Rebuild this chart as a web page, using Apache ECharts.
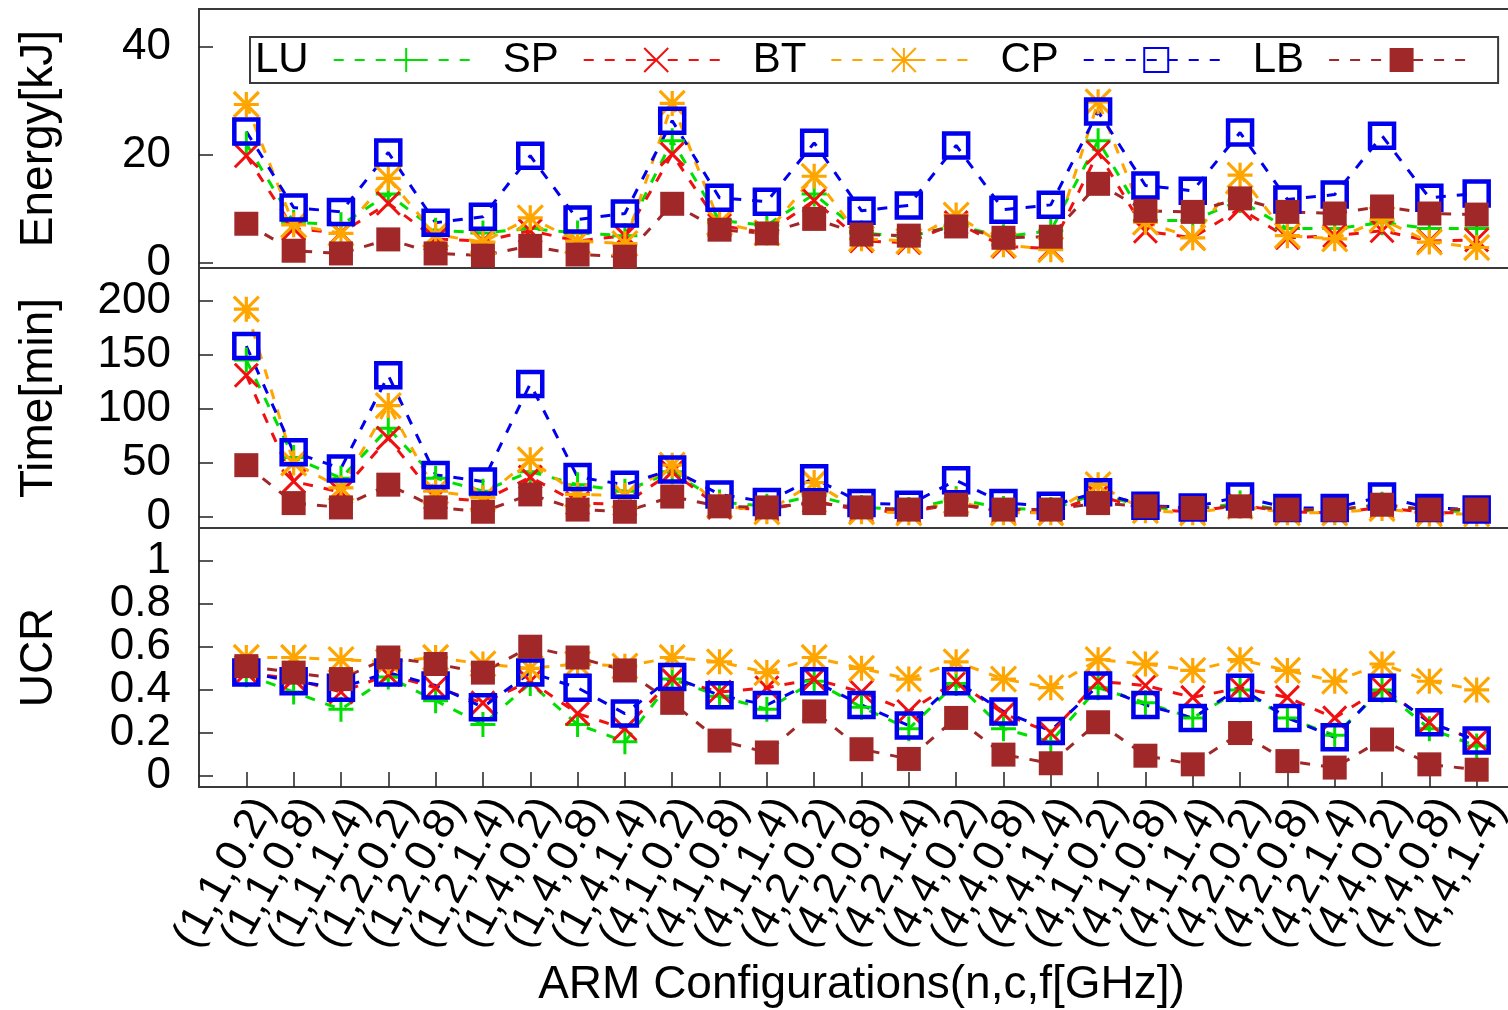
<!DOCTYPE html>
<html>
<head>
<meta charset="utf-8">
<script src="https://cdn.jsdelivr.net/npm/echarts@6/dist/echarts.min.js"></script>
<style>
  html, body { margin: 0; padding: 0; background: #fff; }
  #chart { width: 1508px; height: 1010px; }
</style>
</head>
<body>
<div id="chart"></div>
<script>
// ARM configurations (n, c, f[GHz])
const categories = [
  '(1,1,0.2)', '(1,1,0.8)', '(1,1,1.4)', '(1,2,0.2)', '(1,2,0.8)', '(1,2,1.4)', '(1,4,0.2)', '(1,4,0.8)', '(1,4,1.4)',
  '(4,1,0.2)', '(4,1,0.8)', '(4,1,1.4)', '(4,2,0.2)', '(4,2,0.8)', '(4,2,1.4)', '(4,4,0.2)', '(4,4,0.8)', '(4,4,1.4)',
  '(4,1,0.2)', '(4,1,0.8)', '(4,1,1.4)', '(4,2,0.2)', '(4,2,0.8)', '(4,2,1.4)', '(4,4,0.2)', '(4,4,0.8)', '(4,4,1.4)'
];

const benchmarks = ['LU', 'SP', 'BT', 'CP', 'LB'];

// Energy [kJ]
const energyLU = [22, 7.5, 7, 12.7, 6, 5.5, 6.3, 5.5, 5, 22.6, 7.8, 6.9, 12.7, 5.5, 4.8, 6.9, 4.8, 5.9, 22.6, 7.8, 7.8, 11.5, 6.3, 6.3, 7.4, 6.3, 6.3];
const energySP = [19.8, 6.3, 5.5, 11, 4.4, 4, 5.9, 4, 5, 20.1, 6.9, 5.5, 11.5, 4, 3.7, 7.4, 3, 2.6, 20.4, 5.8, 4.6, 10, 4.6, 5, 5.9, 4, 4.2];
const energyBT = [29.3, 7, 5.4, 15.6, 5.2, 3.8, 8.3, 4, 3.5, 29.5, 7.4, 5.5, 16, 4.4, 4, 8.8, 3.3, 2.4, 29.8, 7.5, 4.6, 16.2, 5, 4.4, 8, 3.8, 2.8];
const energyCP = [24.3, 10.2, 9.4, 20.4, 7.4, 8.5, 19.8, 8.0, 9.1, 26.3, 12.0, 11.3, 22.2, 9.6, 10.6, 21.7, 9.8, 10.7, 28, 14.3, 13.3, 24.1, 11.7, 12.6, 23.5, 12.0, 12.8];
const energyLB = [7.2, 2.2, 1.7, 4.3, 1.7, 1.3, 3.1, 1.5, 1.1, 10.9, 6.1, 5.4, 8.1, 5.2, 5.0, 6.7, 4.6, 4.8, 14.6, 9.6, 9.4, 11.9, 9.4, 9.1, 10.4, 9.1, 8.9];

// Time [min]
const timeLU = [145, 55, 36, 82, 36, 24, 42, 30, 24, 42, 14, 10, 20, 9, 7, 17, 8, 7, 22, 9, 7, 13, 6, 6, 12, 6, 5];
const timeSP = [131, 33, 23, 73, 18, 15, 37, 13, 12, 42, 9, 7, 15, 6, 5, 12, 5, 4, 20, 7, 5, 11, 5, 4, 9, 4, 4];
const timeBT = [192, 50, 27, 103, 24, 18, 53, 21, 20, 48, 11, 5, 32, 5, 4, 15, 4, 4, 30, 6, 4, 10, 4, 4, 8, 3, 3];
const timeCP = [158, 60, 45, 131, 39, 33, 123, 37, 30, 44, 21, 14, 36, 13, 11.5, 34, 13, 10.5, 23, 10.5, 9, 19, 8.5, 8.5, 19, 8.5, 7];
const timeLB = [48, 13, 9, 30, 9, 5, 21, 7, 5, 19, 10, 9, 13, 9, 7, 11.5, 7, 7, 13, 10, 8.5, 10, 7, 7, 11.5, 7, 7];

// UCR
const ucrLU = [0.47, 0.39, 0.31, 0.46, 0.35, 0.24, 0.43, 0.24, 0.16, 0.45, 0.37, 0.31, 0.44, 0.32, 0.22, 0.43, 0.22, 0.16, 0.41, 0.34, 0.27, 0.40, 0.27, 0.19, 0.40, 0.22, 0.14];
const ucrSP = [0.48, 0.45, 0.39, 0.47, 0.41, 0.34, 0.44, 0.29, 0.22, 0.45, 0.39, 0.41, 0.45, 0.39, 0.30, 0.44, 0.29, 0.20, 0.44, 0.42, 0.365, 0.41, 0.365, 0.27, 0.41, 0.25, 0.165];
const ucrBT = [0.55, 0.55, 0.54, 0.53, 0.55, 0.52, 0.50, 0.52, 0.51, 0.55, 0.53, 0.48, 0.55, 0.50, 0.45, 0.53, 0.45, 0.41, 0.54, 0.52, 0.49, 0.54, 0.49, 0.44, 0.52, 0.44, 0.40];
const ucrCP = [0.48, 0.44, 0.41, 0.48, 0.42, 0.32, 0.48, 0.41, 0.29, 0.46, 0.375, 0.33, 0.44, 0.33, 0.235, 0.44, 0.30, 0.21, 0.42, 0.33, 0.27, 0.41, 0.27, 0.18, 0.41, 0.25, 0.165];
const ucrLB = [0.51, 0.48, 0.45, 0.55, 0.52, 0.48, 0.60, 0.55, 0.49, 0.34, 0.165, 0.11, 0.30, 0.125, 0.08, 0.27, 0.10, 0.06, 0.25, 0.095, 0.055, 0.20, 0.07, 0.04, 0.17, 0.055, 0.03];

// Tick labels of the three value axes
const energyTicks = [0, 20, 40];
const timeTicks = [0, 50, 100, 150, 200];
const ucrTicks = [0, 0.2, 0.4, 0.6, 0.8, 1];

const FONT = 'Liberation Sans, Arial, Helvetica, sans-serif';
const FRAME = '#3a3a3a';

// Point styles: plus, cross, asterisk, open square, filled square
const styles = {
  LU: { color: '#00e000', symbol: 'path://M0,-10L0,10M-10,0L10,0', size: 25, fill: 'rgba(0,0,0,0)', border: 3 },
  SP: { color: '#f01010', symbol: 'path://M-10,-10L10,10M10,-10L-10,10', size: 23, fill: 'rgba(0,0,0,0)', border: 3 },
  BT: { color: '#ffa500', symbol: 'path://M0,-10L0,10M-10,0L10,0M-10,-10L10,10M10,-10L-10,10', size: 25, fill: 'rgba(0,0,0,0)', border: 3.2 },
  CP: { color: '#0000ee', symbol: 'rect', size: 24, fill: 'rgba(0,0,0,0)', border: 4.5 },
  LB: { color: '#a02828', symbol: 'rect', size: 24, fill: '#a02828', border: 0 }
};

const panelData = [
  { LU: energyLU, SP: energySP, BT: energyBT, CP: energyCP, LB: energyLB },
  { LU: timeLU, SP: timeSP, BT: timeBT, CP: timeCP, LB: timeLB },
  { LU: ucrLU, SP: ucrSP, BT: ucrBT, CP: ucrCP, LB: ucrLB }
];

const panels = [
  { top: 9, height: 259, min: -1, max: 47, ticks: energyTicks, name: 'Energy[kJ]' },
  { top: 268, height: 260, min: -10, max: 230, ticks: timeTicks, name: 'Time[min]' },
  { top: 528, height: 259, min: -0.05, max: 1.15, ticks: ucrTicks, name: 'UCR' }
];

const categoryIndex = categories.map((_, i) => i);

const grid = panels.map(p => ({
  left: 199, top: p.top, width: 1325, height: p.height,
  show: true, borderColor: FRAME, borderWidth: 2,
  backgroundColor: 'transparent', containLabel: false, outerBoundsMode: 'none'
}));

// x runs one slot beyond the first and last configuration
const xAxis = panels.map((p, k) => {
  const last = k === panels.length - 1;
  return {
    type: 'value', gridIndex: k, min: -1, max: 27, interval: 1, position: 'bottom',
    axisLine: { show: false, onZero: false },
    splitLine: { show: false },
    axisTick: { show: last, inside: true, length: 15, customValues: [-1].concat(categoryIndex, [27]),
                lineStyle: { color: '#222', width: 1.5 } },
    axisLabel: {
      show: last,
      showMinLabel: false, showMaxLabel: false, hideOverlap: false,
      formatter: v => categories[Math.round(v)] || '',
      rotate: 61, align: 'right', verticalAlign: 'top', lineHeight: 42, margin: 4,
      fontSize: 44, fontFamily: FONT, color: '#000'
    },
    name: last ? 'ARM Configurations(n,c,f[GHz])' : '',
    nameLocation: 'middle', nameGap: 175, nameMoveOverlap: false,
    nameTextStyle: { fontSize: 46, fontFamily: FONT, color: '#000', verticalAlign: 'top' }
  };
});

// the axis ends are kept as blank outer entries so every tick value keeps its label
const yAxis = panels.map((p, k) => ({
  type: 'value', gridIndex: k, min: p.min, max: p.max, position: 'left',
  axisLine: { show: false, onZero: false },
  splitLine: { show: false },
  axisTick: { show: true, inside: true, length: 14, customValues: [p.min].concat(p.ticks, [p.max]),
              lineStyle: { color: '#222', width: 1.5 } },
  axisLabel: { customValues: [p.min].concat(p.ticks, [p.max]),
               showMinLabel: false, showMaxLabel: false, hideOverlap: false,
               formatter: v => (p.ticks.indexOf(v) >= 0 ? String(v) : ''),
               margin: 28, fontSize: 44, fontFamily: FONT, color: '#000' },
  name: p.name, nameLocation: 'middle', nameGap: 137, nameMoveOverlap: false,
  nameTextStyle: { fontSize: 46, fontFamily: FONT, color: '#000' }
}));

const series = [];
panelData.forEach((set, k) => {
  benchmarks.forEach(b => {
    const s = styles[b];
    series.push({
      name: b, type: 'line', xAxisIndex: k, yAxisIndex: k,
      data: set[b].map((v, i) => [i, v]),
      symbol: s.symbol, symbolSize: s.size, showAllSymbol: true,
      lineStyle: { color: s.color, width: 3, type: [10, 11] },
      itemStyle: { color: s.fill, borderColor: s.color, borderWidth: s.border },
      emphasis: { disabled: true },
      animation: false
    });
  });
});

const chart = echarts.init(document.getElementById('chart'), null, { renderer: 'canvas' });
chart.setOption({
  backgroundColor: '#fff',
  animation: false,
  textStyle: { fontFamily: FONT },
  grid, xAxis, yAxis, series,
  legend: {
    data: benchmarks,
    left: 250, top: 37,
    orient: 'horizontal', align: 'right',
    itemWidth: 145, itemHeight: 30, itemGap: 23,
    padding: [2, 23, 2, 5],
    borderColor: FRAME, borderWidth: 2,
    selectedMode: false,
    textStyle: { fontSize: 42, fontFamily: FONT, color: '#000', padding: [0, 20, 0, 0] }
  }
});
</script>
</body>
</html>
